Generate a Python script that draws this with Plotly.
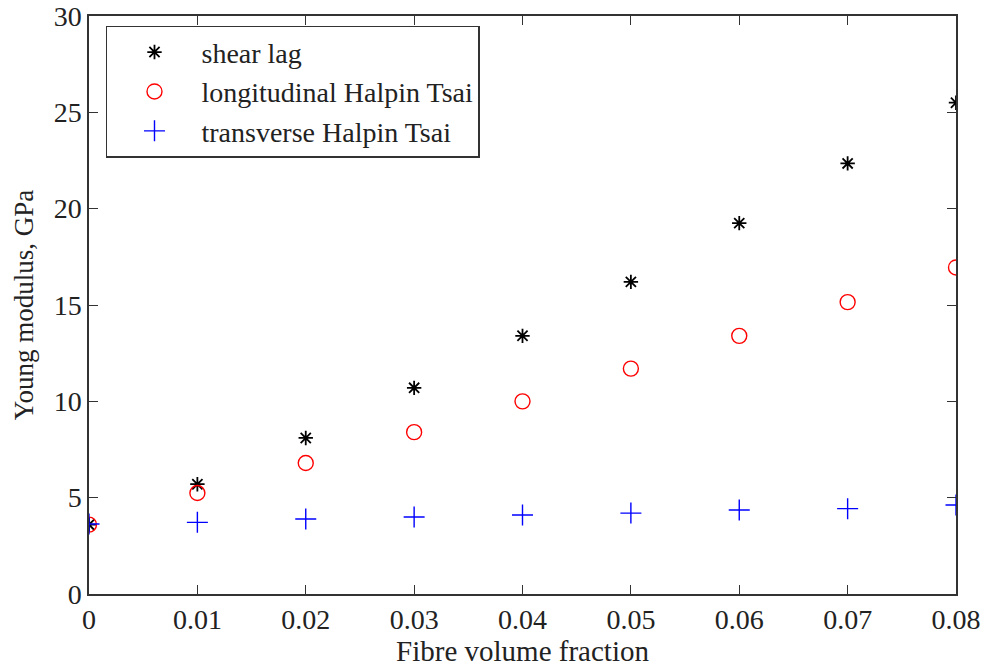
import plotly.graph_objects as go

x_vals = [0, 0.01, 0.02, 0.03, 0.04, 0.05, 0.06, 0.07, 0.08]
shear_lag = [3.6, 5.7, 8.1, 10.7, 13.4, 16.2, 19.25, 22.35, 25.5]
long_ht = [3.6, 5.24, 6.8, 8.4, 10.0, 11.7, 13.4, 15.15, 16.95]
trans_ht = [3.63, 3.72, 3.89, 4.0, 4.1, 4.2, 4.36, 4.43, 4.62]

x_ticks = [0, 0.01, 0.02, 0.03, 0.04, 0.05, 0.06, 0.07, 0.08]
x_ticklabels = ["0", "0.01", "0.02", "0.03", "0.04", "0.05", "0.06", "0.07", "0.08"]
y_ticks = [0, 5, 10, 15, 20, 25, 30]

FONT = "Liberation Serif, Times New Roman, serif"

fig = go.Figure()
fig.add_trace(go.Scatter(
    x=x_vals, y=shear_lag, mode="markers", name="shear lag",
    marker=dict(symbol="asterisk-open", size=12, color="black",
                line=dict(color="black", width=1.8)),
))
fig.add_trace(go.Scatter(
    x=x_vals, y=long_ht, mode="markers", name="longitudinal Halpin Tsai",
    marker=dict(symbol="circle-open", size=15, color="red",
                line=dict(color="red", width=1.4)),
))
fig.add_trace(go.Scatter(
    x=x_vals, y=trans_ht, mode="markers", name="transverse Halpin Tsai",
    marker=dict(symbol="cross-thin-open", size=15, color="blue",
                line=dict(color="blue", width=1.4)),
))

axis_common = dict(
    showline=True, linecolor="#333333", linewidth=1.5, mirror="ticks",
    ticks="inside", ticklen=9, tickwidth=1.2, tickcolor="#333333",
    showgrid=False, zeroline=False, ticklabeloverflow="allow", automargin=False,
    tickfont=dict(family=FONT, size=28, color="#222222"),
)

fig.update_layout(
    width=986, height=668,
    margin=dict(l=89, r=30, t=16, b=74, autoexpand=False),
    paper_bgcolor="white", plot_bgcolor="white",
    font=dict(family=FONT, size=28, color="#222222"),
    xaxis=dict(range=[0, 0.08], tickvals=x_ticks, ticktext=x_ticklabels,
               title=dict(text="Fibre volume fraction", font=dict(family=FONT, size=29), standoff=4),
               **axis_common),
    yaxis=dict(range=[0, 30], tickvals=y_ticks,
               title=dict(text="Young modulus, GPa", font=dict(family=FONT, size=27), standoff=12),
               **axis_common),
    legend=dict(x=0.0196, y=0.983, xanchor="left", yanchor="top",
                bgcolor="white", bordercolor="#333333", borderwidth=1.5,
                font=dict(family=FONT, size=28, color="#222222"),
                itemwidth=84, tracegroupgap=0),
    showlegend=True,
)

fig.write_html("out.html", config={"displayModeBar": False},
               post_script="document.body.style.margin='0';")
